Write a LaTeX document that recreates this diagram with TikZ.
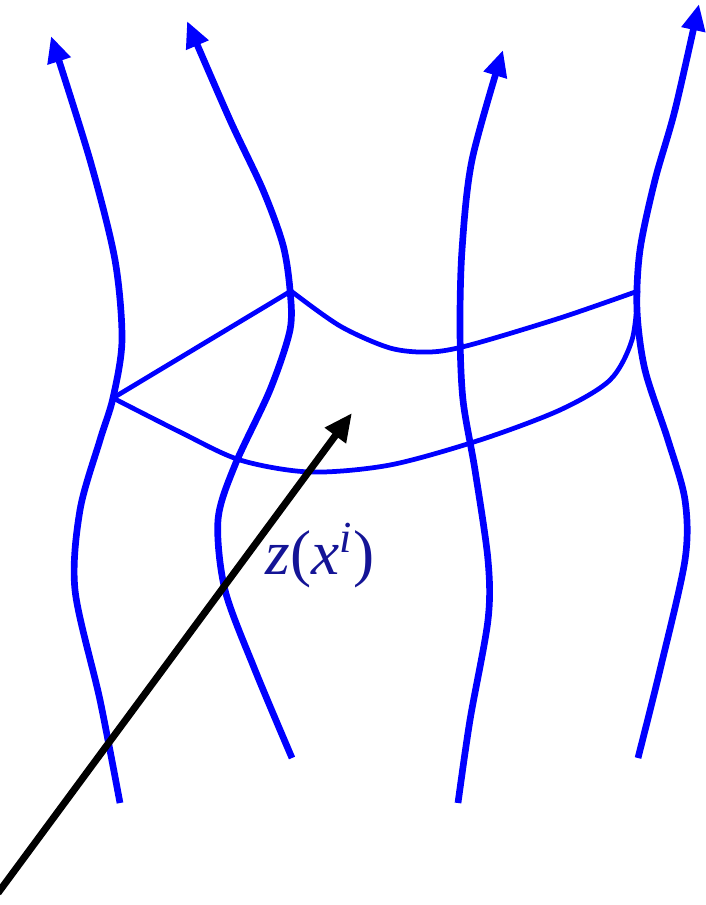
\documentclass[tikz,border=0pt]{standalone}
\usepackage{fontspec}
\setmainfont{Liberation Serif}
\usetikzlibrary{arrows.meta}
\definecolor{worldblue}{RGB}{0,0,255}
\definecolor{labelblue}{RGB}{20,20,150}
\tikzset{
  worldline/.style={worldblue, line width=1.9pt, -{Triangle[length=7.5pt,width=6.5pt]}},
  surface/.style={worldblue, line width=1.35pt, line join=round},
  embed/.style={black, line width=2pt, -{Triangle[length=8pt,width=7pt]}}
}
\begin{document}
\begin{tikzpicture}[x=0.01cm, y=-0.01cm]
\useasboundingbox (0,0) rectangle (705,905);

% Lignes d'univers
\draw[worldline] plot[smooth] coordinates {(120,803) (100,700) (75,590) (80,510) (100,440) (113,398) (122,340) (115,260) (90,160) (51,36)};
\draw[worldline] plot[smooth] coordinates {(292,758) (255,670) (225,590) (218,520) (235,465) (270,390) (290,330) (290,290) (283,245) (263,190) (230,120) (187,21)};
\draw[worldline] plot[smooth] coordinates {(458,803) (470,720) (488,620) (488,560) (475,470) (463,400) (460,330) (462,250) (472,160) (503,50)};
\draw[worldline] plot[smooth] coordinates {(638,758) (660,670) (685,560) (685,500) (668,440) (645,370) (637,310) (640,250) (655,180) (675,110) (699,4)};

% Hypersurface
\coordinate (sA) at (113,398);
\coordinate (sB) at (291,291);
\coordinate (sC) at (638,291);
\draw[surface] (sA) -- (sB);
\draw[surface] plot[smooth] coordinates {(291,291) (340,326) (390,348) (430,352) (470,345) (560,318) (638,291)};
\draw[surface] plot[smooth] coordinates {(113,398) (180,432) (240,460) (310,472) (390,465) (480,440) (560,410) (610,380) (632,340) (638,291)};

% Plongement
\coordinate (orig) at (-2,893);
\coordinate (tip) at (352,413);
\draw[embed] (orig) -- (tip);

\node[labelblue, font=\fontsize{18}{20}\selectfont] (zlabel) at (320,556) {\textit{z}(\textit{x}\textsuperscript{\textit{i}})};

\end{tikzpicture}
\end{document}
